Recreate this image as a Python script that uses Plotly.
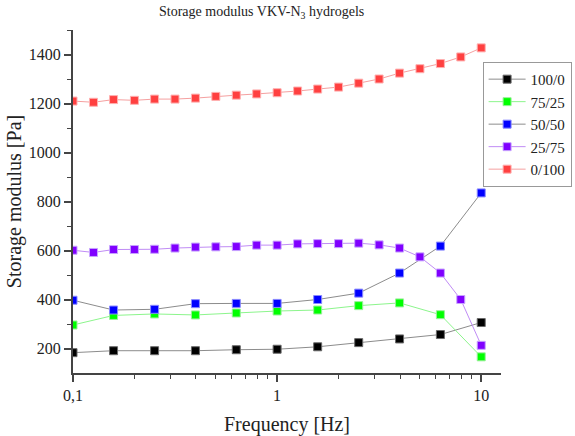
import numpy as np
import plotly.graph_objects as go

# Frequency sweep points (10 per decade, 0.1 - 10 Hz)
freq_full = [0.1, 0.126, 0.158, 0.2, 0.251, 0.316, 0.398, 0.501, 0.631, 0.794,
             1.0, 1.26, 1.58, 2.0, 2.51, 3.16, 3.98, 5.01, 6.31, 7.94, 10.0]
# Sparser sweep (5 per decade)
freq_half = [0.1, 0.158, 0.251, 0.398, 0.631, 1.0, 1.58, 2.51, 3.98, 6.31, 10.0]

g_100_0 = [183, 191, 191, 191, 195, 197, 207, 224, 239, 257, 306]
g_75_25 = [296, 335, 341, 337, 345, 353, 357, 375, 386, 338, 166]
g_50_50 = [397, 357, 360, 383, 384, 384, 400, 426, 508, 618, 835]
g_25_75 = [601, 592, 604, 604, 605, 610, 614, 615, 616, 622, 622,
           627, 628, 628, 630, 623, 610, 574, 508, 400, 213]
g_0_100 = [1210, 1205, 1216, 1213, 1218, 1218, 1222, 1229, 1234, 1239, 1244,
           1251, 1259, 1267, 1283, 1300, 1324, 1342, 1363, 1390, 1427]

series = [
    ("100/0", freq_half, g_100_0, "#000000", "#8c8c8c", "#6a6a6a"),
    ("75/25", freq_half, g_75_25, "#00ff00", "#8cf58c", "#9af09a"),
    ("50/50", freq_half, g_50_50, "#0000ff", "#8c8c8c", "#8a8aff"),
    ("25/75", freq_full, g_25_75, "#8000ff", "#c08cf5", "#c7a3ff"),
    ("0/100", freq_full, g_0_100, "#ff4040", "#f5a0a0", "#ffb0b0"),
]

FONT = "Liberation Serif"
TXT = "#222222"
AX = "#444444"

fig = go.Figure()
for name, x, y, mcol, lcol, edge in series:
    fig.add_trace(go.Scatter(
        x=x, y=y, name=name, mode="lines+markers",
        line=dict(color=lcol, width=1),
        marker=dict(symbol="square", size=8, color=mcol,
                    line=dict(color=edge, width=1)),
    ))

fig.update_layout(
    width=575, height=436,
    margin=dict(l=73, r=74, t=30, b=63, autoexpand=False),
    paper_bgcolor="white", plot_bgcolor="white",
    font=dict(family=FONT, color=TXT, size=14),
    title=dict(text="Storage modulus VKV-N<sub>3</sub> hydrogels",
               x=0.455, xanchor="center", y=0.985, yanchor="top",
               font=dict(family=FONT, size=14, color=TXT)),
    showlegend=True,
    legend=dict(x=0.957, y=0.907, xanchor="left", yanchor="top",
                bgcolor="white", bordercolor="#999999", borderwidth=1,
                font=dict(family=FONT, size=15, color=TXT),
                tracegroupgap=0, itemwidth=37),
)

fig.update_xaxes(
    type="log", range=[-1, np.log10(12.5)],
    tickvals=[0.1, 1, 10], ticktext=["0,1", "1", "10"],
    ticks="outside", ticklen=7, tickwidth=1.5, tickcolor=AX,
    minor=dict(ticks="outside", ticklen=4, tickwidth=1, tickcolor=AX,
               tickvals=[0.2, 0.3, 0.4, 0.5, 0.6, 0.7, 0.8, 0.9,
                         2, 3, 4, 5, 6, 7, 8, 9], showgrid=False),
    showline=True, linecolor=AX, linewidth=2,
    showgrid=False, zeroline=False,
    tickfont=dict(family=FONT, size=16, color=TXT),
    title=dict(text="Frequency [Hz]", standoff=20,
               font=dict(family=FONT, size=20, color=TXT)),
)

fig.update_yaxes(
    range=[100, 1500],
    tickvals=[200, 400, 600, 800, 1000, 1200, 1400],
    ticks="outside", ticklen=7, tickwidth=1.5, tickcolor=AX,
    minor=dict(ticks="outside", ticklen=4, tickwidth=1, tickcolor=AX,
               tickvals=[300, 500, 700, 900, 1100, 1300, 1500], showgrid=False),
    showline=True, linecolor=AX, linewidth=2,
    showgrid=False, zeroline=False,
    tickfont=dict(family=FONT, size=16, color=TXT),
    title=dict(text="Storage modulus [Pa]", standoff=2,
               font=dict(family=FONT, size=20, color=TXT)),
)

fig.write_html("out.html")
